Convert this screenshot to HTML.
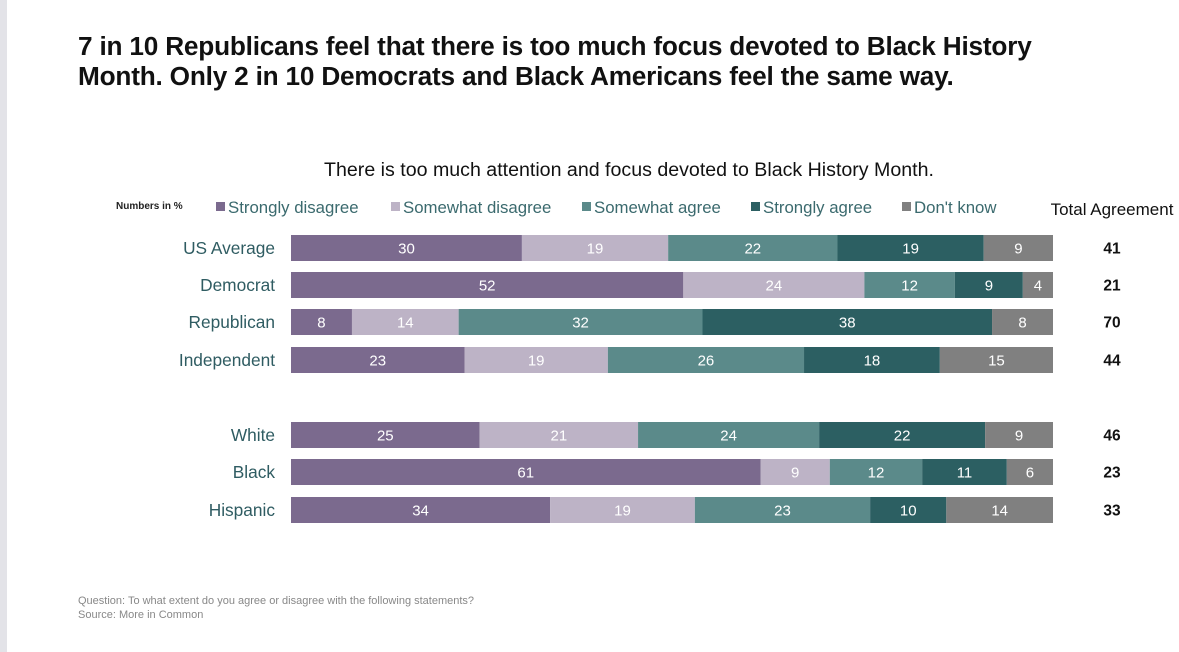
<!DOCTYPE html>
<html><head><meta charset="utf-8"><style>
body{margin:0;width:1179px;height:652px;background:#fff;font-family:"Liberation Sans",sans-serif;position:relative;overflow:hidden}
.strip{position:absolute;left:0;top:0;width:7px;height:652px;background:#e3e3e8}
h1{position:absolute;left:78px;top:31px;margin:0;font-size:26.2px;line-height:30px;font-weight:bold;color:#111;letter-spacing:-0.2px;white-space:nowrap}
</style></head><body>
<div class="strip"></div>
<h1>7 in 10 Republicans feel that there is too much focus devoted to Black History<br>Month. Only 2 in 10 Democrats and Black Americans feel the same way.</h1>
<svg id="chart" width="1179" height="652" style="position:absolute;left:0;top:0">
<text x="629" y="176" text-anchor="middle" font-size="19.6" fill="#111">There is too much attention and focus devoted to Black History Month.</text>
<text x="116" y="209" font-size="10" font-weight="bold" fill="#222">Numbers in %</text>
<text x="1112" y="215" text-anchor="middle" font-size="17" fill="#111">Total Agreement</text>
<g id="legend"></g><g id="bars"></g>
<text x="78" y="604" font-size="11" fill="#888">Question: To what extent do you agree or disagree with the following statements?</text>
<text x="78" y="618" font-size="11" fill="#888">Source: More in Common</text>
</svg>
<script>
const categories=["US Average","Democrat","Republican","Independent","White","Black","Hispanic"];
const stronglyDisagree=[30,52,8,23,25,61,34];
const somewhatDisagree=[19,24,14,19,21,9,19];
const somewhatAgree=[22,12,32,26,24,12,23];
const stronglyAgree=[19,9,38,18,22,11,10];
const dontKnow=[9,4,8,15,9,6,14];
const totalAgreement=[41,21,70,44,46,23,33];
const seriesNames=["Strongly disagree","Somewhat disagree","Somewhat agree","Strongly agree","Don't know"];
const series=[stronglyDisagree,somewhatDisagree,somewhatAgree,stronglyAgree,dontKnow];
const colors=["#7b6a8e","#bdb3c6","#5b8a8a","#2c5f62","#808080"];
const NS="http://www.w3.org/2000/svg";
const x0=291,x1=1053,bh=26;
const rowCenters=[248,285,322,360,435,472,510];
function xScale(v,total){return v/total*(x1-x0);}
function mk(tag,attrs,parent){const e=document.createElementNS(NS,tag);for(const k in attrs)e.setAttribute(k,attrs[k]);parent.appendChild(e);return e;}
const lg=document.getElementById('legend');
const legendX=[216,391,582,751,902];
seriesNames.forEach((n,i)=>{
  const r=mk('rect',{x:legendX[i],y:202,width:9,height:9,fill:colors[i]},lg);
  
  
  const t=mk('text',{x:legendX[i]+12,y:213,'font-size':16.8,fill:'#3b6a6e'},lg);
  t.textContent=n;
  
  
});
const bg=document.getElementById('bars');
categories.forEach((c,r)=>{
  const cy=rowCenters[r];
  const lab=mk('text',{x:275,y:cy+6,'text-anchor':'end','font-size':17.3,fill:'#2f5c62'},bg);
  lab.textContent=c;
  
  
  const total=series.reduce((s,a)=>s+a[r],0);
  let x=x0;
  series.forEach((a,i)=>{
    const w=xScale(a[r],total);
    const rect=mk('rect',{x:x,y:cy-bh/2,width:w,height:bh,fill:colors[i]},bg);
    
    
    const t=mk('text',{x:x+w/2,y:cy+5.5,'text-anchor':'middle','font-size':15,fill:'#fff'},bg);
    t.textContent=a[r];
    
    
    x+=w;
  });
  const tt=mk('text',{x:1112,y:cy+5.5,'text-anchor':'middle','font-size':15.5,'font-weight':'bold',fill:'#111'},bg);
  tt.textContent=totalAgreement[r];
  
  
});
</script>
</body></html>
